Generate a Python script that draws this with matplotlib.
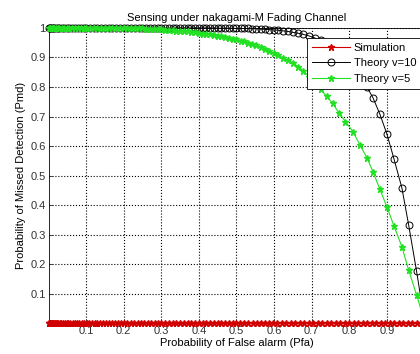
import matplotlib.pyplot as plt

plt.rcParams['font.family'] = ['Liberation Sans', 'DejaVu Sans']

# Pfa points used by the theory curves
pfa_th = [0.001, 0.003, 0.005, 0.008, 0.011, 0.015, 0.019, 0.024, 0.029, 0.035,
          0.041, 0.048, 0.055, 0.062, 0.07, 0.078, 0.086, 0.094,
          0.10, 0.11, 0.12, 0.13, 0.14, 0.15, 0.16, 0.17, 0.18, 0.19,
          0.20, 0.21, 0.22, 0.23, 0.24, 0.25, 0.26, 0.27, 0.28, 0.29,
          0.30, 0.31, 0.32, 0.33, 0.34, 0.35, 0.36, 0.37, 0.38, 0.39,
          0.40, 0.41, 0.42, 0.43, 0.44, 0.45, 0.46, 0.47, 0.48, 0.49, 0.50,
          0.511, 0.521, 0.531, 0.542, 0.553, 0.564, 0.575, 0.587, 0.599, 0.611,
          0.624, 0.637, 0.65, 0.664, 0.678, 0.693, 0.708, 0.724, 0.74, 0.756,
          0.772, 0.79, 0.81, 0.828, 0.847, 0.863, 0.881, 0.90, 0.919, 0.94,
          0.958, 0.979, 1.0]

# Theory v=10 (black circles)
pmd_v10 = [1.0, 1.0, 1.0, 1.0, 1.0, 1.0, 1.0, 1.0, 1.0, 1.0,
           1.0, 1.0, 1.0, 1.0, 1.0, 1.0, 1.0, 1.0,
           1.0, 1.0, 1.0, 1.0, 1.0, 1.0, 1.0, 1.0, 1.0, 1.0,
           1.0, 1.0, 1.0, 1.0, 1.0, 1.0, 1.0, 1.0, 1.0, 1.0,
           1.0, 1.0, 1.0, 1.0, 1.0, 1.0, 1.0, 1.0, 1.0, 1.0,
           1.0, 1.0, 1.0, 1.0, 1.0, 0.999, 0.999, 0.999, 0.999, 0.999, 0.998,
           0.998, 0.998, 0.998, 0.997, 0.997, 0.996, 0.995, 0.994, 0.993, 0.992,
           0.99, 0.988, 0.985, 0.982, 0.978, 0.973, 0.966, 0.958, 0.948, 0.936,
           0.921, 0.90, 0.872, 0.84, 0.80, 0.764, 0.71, 0.642, 0.557, 0.459,
           0.334, 0.178, 0.01]

# Theory v=5 (green stars)
pmd_v5 = [1.0, 1.0, 1.0, 1.0, 1.0, 1.0, 1.0, 1.0, 1.0, 1.0,
          1.0, 1.0, 1.0, 1.0, 1.0, 1.0, 1.0, 1.0,
          1.0, 1.0, 1.0, 1.0, 1.0, 1.0, 1.0, 1.0, 1.0, 1.0,
          0.999, 0.999, 0.999, 0.998, 0.998, 0.998, 0.997, 0.997, 0.996, 0.996,
          0.995, 0.994, 0.993, 0.992, 0.991, 0.990, 0.989, 0.988, 0.986, 0.985,
          0.983, 0.981, 0.980, 0.978, 0.976, 0.974, 0.972, 0.970, 0.967, 0.964, 0.961,
          0.957, 0.954, 0.950, 0.946, 0.941, 0.935, 0.929, 0.922, 0.914, 0.907,
          0.899, 0.891, 0.882, 0.869, 0.855, 0.835, 0.814, 0.792, 0.768, 0.745,
          0.713, 0.683, 0.649, 0.605, 0.561, 0.514, 0.456, 0.395, 0.33, 0.26,
          0.181, 0.097, 0.01]

# Simulation (red stars), Pmd stays at 0
pfa_sim = [0.001, 0.002, 0.003, 0.004, 0.005, 0.006, 0.008, 0.01, 0.012, 0.014,
           0.017, 0.02, 0.023, 0.026, 0.03, 0.034, 0.038, 0.043, 0.048, 0.053,
           0.058, 0.064, 0.07, 0.076, 0.082, 0.088, 0.095, 0.102, 0.109, 0.116,
           0.123, 0.13, 0.138, 0.146, 0.154, 0.162, 0.17, 0.178, 0.186, 0.194,
           0.202, 0.21, 0.219, 0.228, 0.237, 0.246, 0.255, 0.264, 0.273, 0.282,
           0.291, 0.30, 0.31, 0.32, 0.33, 0.34, 0.35, 0.36, 0.37, 0.38,
           0.39, 0.40, 0.41, 0.42, 0.43, 0.44, 0.45, 0.46, 0.47, 0.48,
           0.49, 0.50, 0.51, 0.521, 0.532, 0.543, 0.554, 0.565, 0.576, 0.587,
           0.598, 0.609, 0.62, 0.632, 0.644, 0.656, 0.668, 0.68, 0.692, 0.704,
           0.716, 0.728, 0.74, 0.752, 0.764, 0.776, 0.788, 0.80, 0.812, 0.824,
           0.836, 0.848, 0.86, 0.872, 0.884, 0.896, 0.908, 0.92, 0.932, 0.944,
           0.956, 0.968, 0.98, 0.992, 1.0]
pmd_sim = [0.0] * len(pfa_sim)

fig = plt.figure(figsize=(4.2, 3.54), dpi=100)
ax = fig.add_axes([0.1155, 0.0862, 0.895, 0.835])

ax.plot(pfa_sim, pmd_sim, color='#d00000', marker='*', markersize=5, linewidth=0.8,
        label='Simulation', clip_on=False, zorder=4)
ax.plot(pfa_th, pmd_v10, color='black', marker='o', markersize=5, markerfacecolor='none',
        markeredgewidth=0.7, linewidth=0.7, label='Theory v=10', clip_on=False, zorder=3)
ax.plot(pfa_th, pmd_v5, color='#22e022', marker='*', markersize=5, linewidth=0.8,
        label='Theory v=5', clip_on=False, zorder=3)

ax.set_xlim(0, 1)
ax.set_ylim(0, 1)
ax.set_xticks([0.1, 0.2, 0.3, 0.4, 0.5, 0.6, 0.7, 0.8, 0.9])
ax.set_xticklabels(['0.1', '0.2', '0.3', '0.4', '0.5', '0.6', '0.7', '0.8', '0.9'])
ax.set_yticks([0.1, 0.2, 0.3, 0.4, 0.5, 0.6, 0.7, 0.8, 0.9, 1.0])
ax.set_yticklabels(['0.1', '0.2', '0.3', '0.4', '0.5', '0.6', '0.7', '0.8', '0.9', '1'])
ax.tick_params(direction='in', labelsize=8, length=3, width=0.6, colors='#333333', pad=2)
ax.grid(True, linestyle=':', color='black', linewidth=0.8)
for s in ax.spines.values():
    s.set_linewidth(0.6)

ax.set_title('Sensing under nakagami-M Fading Channel', fontsize=8, pad=5)
ax.set_xlabel('Probability of False alarm (Pfa)', fontsize=8, labelpad=1)
ax.set_ylabel('Probability of Missed Detection (Pmd)', fontsize=8, labelpad=3)

leg = ax.legend(loc='upper right', bbox_to_anchor=(1.0, 0.978), fontsize=8,
                fancybox=False, framealpha=1, edgecolor='black', handlelength=3.4,
                labelspacing=0.5, borderpad=0.45, handletextpad=0.3, borderaxespad=0.3)
leg.get_frame().set_linewidth(0.6)

fig.savefig('out.png', dpi=100)
